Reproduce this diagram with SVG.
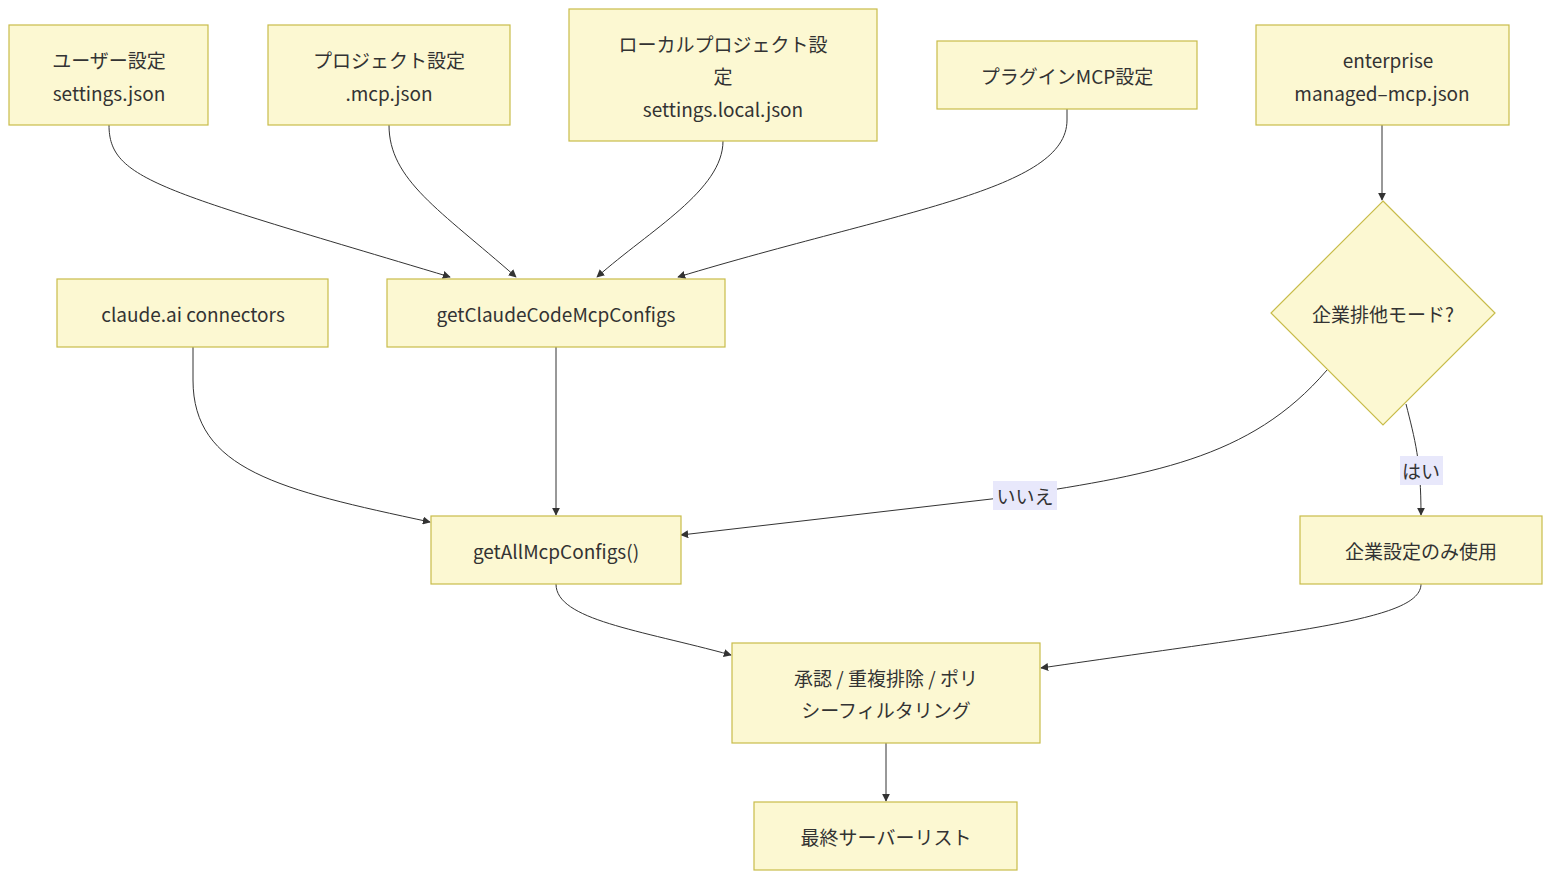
<svg xmlns="http://www.w3.org/2000/svg" width="1568" height="890" viewBox="0 0 1568 890">
<style>
.n rect,.n polygon{fill:#fcf8d2;stroke:#c8bc4a;stroke-width:1.2}
text{font-family:"Noto Sans CJK JP","Noto Sans",sans-serif;font-size:19px;fill:#333;text-anchor:middle;dominant-baseline:central}
.e path{fill:none;stroke:#333;stroke-width:1}
.lb{fill:#e8e8fb}
</style>
<defs>
<marker id="a" viewBox="0 0 10 10" refX="9" refY="5" markerWidth="8" markerHeight="8" orient="auto"><path d="M0,0L10,5L0,10z" fill="#333"/></marker>
<clipPath id="c4"><rect x="937" y="41" width="228" height="68"/></clipPath>
<clipPath id="c5"><rect x="1256" y="25" width="220" height="100"/></clipPath>
<clipPath id="c7"><rect x="57" y="279" width="237" height="68"/></clipPath>
<clipPath id="c8"><rect x="387" y="279" width="304" height="68"/></clipPath>
<clipPath id="c9"><rect x="431" y="516" width="216" height="68"/></clipPath>
<clipPath id="c6"><rect x="1271" y="201" width="195" height="224"/></clipPath>
</defs>
<g class="e">
<path d="M109,125 C109,180 160,190 450,277" marker-end="url(#a)"/>
<path d="M389,125 C389,180 440,210 516,277" marker-end="url(#a)"/>
<path d="M723,141 C723,190 650,230 597,277" marker-end="url(#a)"/>
<path d="M1067,109 V120 C1067,190 900,210 678,277" marker-end="url(#a)"/>
<path d="M1382,125 V200" marker-end="url(#a)"/>
<path d="M556,347 V515" marker-end="url(#a)"/>
<path d="M193,347 V380 C193,470 280,490 430,522" marker-end="url(#a)"/>
<path d="M1327,370 C1250,460 1150,475 1000,498 L681,535" marker-end="url(#a)"/>
<path d="M1406,404 C1415,440 1421,460 1421,515" marker-end="url(#a)"/>
<path d="M556,584 C556,620 640,630 731,655" marker-end="url(#a)"/>
<path d="M1421,584 C1421,620 1300,630 1041,668" marker-end="url(#a)"/>
<path d="M886,743 V801" marker-end="url(#a)"/>
<rect class="lb" x="993" y="481" width="64" height="29"/><text x="1025" y="495">いいえ</text>
<rect class="lb" x="1400" y="456" width="43" height="29"/><text x="1421" y="470">はい</text>
</g>
<g id="n1" class="n"><rect x="9" y="25" width="199" height="100"/><text x="109" y="59">ユーザー設定</text><text x="109" y="92">settings.json</text></g>
<g id="n2" class="n"><rect x="268" y="25" width="242" height="100"/><text x="389" y="59">プロジェクト設定</text><text x="389" y="92">.mcp.json</text></g>
<g id="n3" class="n"><rect x="569" y="9" width="308" height="132"/><text x="723" y="43">ローカルプロジェクト設</text><text x="723" y="75">定</text><text x="723" y="108">settings.local.json</text></g>
<g id="n4" class="n"><rect x="937" y="41" width="260" height="68"/><text x="1067" y="75" clip-path="url(#c4)">プラグインMCP設定</text></g>
<g id="n5" class="n"><rect x="1256" y="25" width="253" height="100"/><text x="1388" y="59">enterprise</text><text x="1382" y="92" clip-path="url(#c5)">managed–mcp.json</text></g>
<g id="n6" class="n"><polygon points="1383,201 1495,313 1383,425 1271,313"/><text x="1383" y="313" clip-path="url(#c6)">企業排他モード?</text></g>
<g id="n7" class="n"><rect x="57" y="279" width="271" height="68"/><text x="193" y="313" clip-path="url(#c7)">claude.ai connectors</text></g>
<g id="n8" class="n"><rect x="387" y="279" width="338" height="68"/><text x="556" y="313" clip-path="url(#c8)">getClaudeCodeMcpConfigs</text></g>
<g id="n9" class="n"><rect x="431" y="516" width="250" height="68"/><text x="556" y="550" clip-path="url(#c9)">getAllMcpConfigs()</text></g>
<g id="n10" class="n"><rect x="1300" y="516" width="242" height="68"/><text x="1421" y="550">企業設定のみ使用</text></g>
<g id="n11" class="n"><rect x="732" y="643" width="308" height="100"/><text x="886" y="677">承認 / 重複排除 / ポリ</text><text x="886" y="709">シーフィルタリング</text></g>
<g id="n12" class="n"><rect x="754" y="802" width="263" height="68"/><text x="886" y="836">最終サーバーリスト</text></g>
</svg>
